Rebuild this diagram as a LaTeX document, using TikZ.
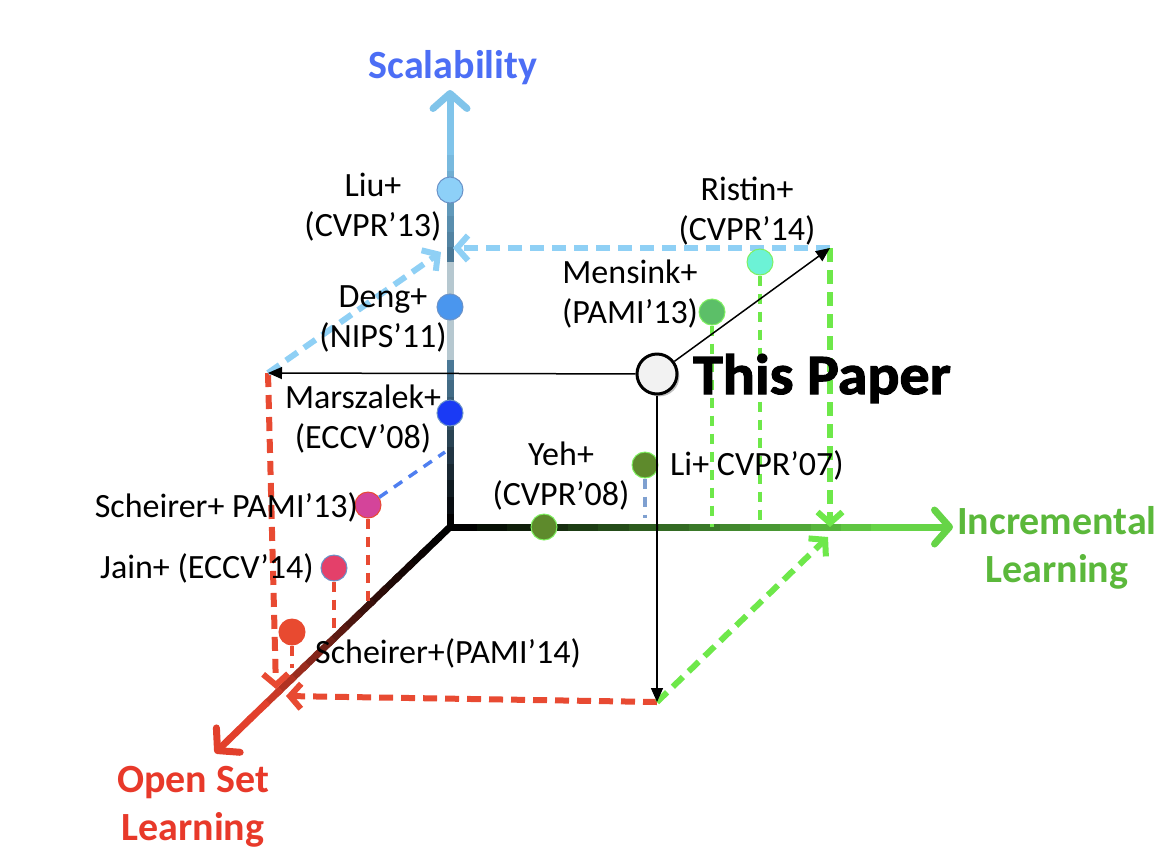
\documentclass[tikz,border=0pt]{standalone}
\usepackage{fontspec}
\setmainfont{Carlito}
\newfontfamily\heavyfont[FakeStretch=1.05,BoldFeatures={FakeBold=2}]{Carlito}
\usetikzlibrary{arrows.meta,calc,shadows}

\definecolor{scalblue}{HTML}{4C6EF5}
\definecolor{incgreen}{HTML}{5BB83B}
\definecolor{openred}{HTML}{E8392A}
\definecolor{ydark}{HTML}{4A7896}
\definecolor{ygrey}{HTML}{B6C8D0}
\definecolor{yblue}{HTML}{80C4EA}
\definecolor{xgreen}{HTML}{66D447}
\definecolor{zred}{HTML}{E2402C}
\definecolor{dashblue}{HTML}{8FD0F5}
\definecolor{dashgreen}{HTML}{6EE84A}
\definecolor{dashred}{HTML}{E84A32}
\definecolor{midblue}{HTML}{4F7FF0}
\definecolor{steelblue}{HTML}{7FA0D0}
\definecolor{olive}{HTML}{5E8A2C}
\definecolor{rimgreen}{HTML}{7EF060}
\definecolor{rimblue}{HTML}{6A92C8}
\definecolor{liufill}{HTML}{8DD0F8}
\definecolor{dengfill}{HTML}{4A96EE}
\definecolor{marsfill}{HTML}{1A3AF5}
\definecolor{schfill}{HTML}{D4449A}
\definecolor{jainfill}{HTML}{E4406A}
\definecolor{schbfill}{HTML}{E84A30}
\definecolor{mensfill}{HTML}{5CBF68}
\definecolor{ristfill}{HTML}{6CF2D6}
\definecolor{paperfill}{HTML}{F2F2F2}

\begin{document}
\begin{tikzpicture}[x=1pt,y=-1pt,
  axisline/.style={line width=7pt},
  barb/.style={-{Straight Barb[length=15pt,width=34pt,round]}},
  dot/.style={circle,minimum size=26pt,inner sep=0pt,line width=1pt},
  lbl/.style={font=\fontsize{34}{40}\selectfont,align=center,inner sep=0pt},
  title/.style={font=\fontsize{40}{48}\selectfont\bfseries,align=center,inner sep=0pt},
  boxdash/.style={line width=6pt,dash pattern=on 14pt off 8pt,-{Straight Barb[length=11pt,width=25pt]}},
  ptdash/.style={line width=3.5pt,dash pattern=on 10pt off 8pt},
  guide/.style={line width=1.5pt,-{Triangle[length=14pt,width=12pt]}}
]
\useasboundingbox (0,0) rectangle (1174,860);

% axes
\coordinate (O) at (450,527);
\coordinate (ylow) at (450,360);
\coordinate (yhi) at (450,262);
\coordinate (yend) at (450,140);
\coordinate (ytip) at (450,90);
\coordinate (xend) at (905,527);
\coordinate (xtip) at (953,527);
\coordinate (zend) at (252,717);
\coordinate (ztip) at (215,753);

\foreach \i in {0,...,14} {
  \pgfmathsetmacro{\a}{\i/15}
  \pgfmathsetmacro{\b}{(\i+1)/15}
  \pgfmathsetmacro{\p}{100*(\i/14)^1.6}
  \draw[axisline,line cap=rect,draw=zred!\p!black] ($(O)!\a!(zend)$) -- ($(O)!\b!(zend)$);
}
\draw[axisline,barb,draw=zred] (zend) -- (ztip);

\foreach \i in {0,...,14} {
  \pgfmathsetmacro{\a}{\i/15}
  \pgfmathsetmacro{\b}{(\i+1)/15}
  \pgfmathsetmacro{\p}{100*\i/14}
  \draw[axisline,line cap=rect,draw=xgreen!\p!black] ($(O)!\a!(xend)$) -- ($(O)!\b!(xend)$);
}
\draw[axisline,barb,draw=xgreen] (xend) -- (xtip);

\foreach \i in {0,...,9} {
  \pgfmathsetmacro{\a}{\i/10}
  \pgfmathsetmacro{\b}{(\i+1)/10}
  \pgfmathsetmacro{\p}{100*\i/9}
  \draw[axisline,line cap=rect,draw=ydark!\p!black] ($(O)!\a!(ylow)$) -- ($(O)!\b!(ylow)$);
}
\draw[axisline,draw=ygrey] (ylow) -- (yhi);
\foreach \i in {0,...,7} {
  \pgfmathsetmacro{\a}{\i/8}
  \pgfmathsetmacro{\b}{(\i+1)/8}
  \pgfmathsetmacro{\p}{100*\i/7}
  \draw[axisline,draw=yblue!\p!ydark] ($(yhi)!\a!(yend)$) -- ($(yhi)!\b!(yend)$);
}
\draw[axisline,barb,draw=yblue] (yend) -- (ytip);

\node[title,text=scalblue,anchor=base] (scal) at (453,78) {Scalability};
\node[title,text=incgreen] (incr) at (1057,548) {Incremental\\Learning};
\node[title,text=openred] (open) at (193,807) {Open Set\\Learning};

% box corners and arrow ends on the axes
\coordinate (cyz) at (268,373);
\coordinate (cxy) at (830,248);
\coordinate (cxz) at (657,702);
\coordinate (cyA) at (453,248);
\coordinate (cyB) at (441,252);
\coordinate (cxA) at (830,527);
\coordinate (cxB) at (828,537);
\coordinate (czA) at (276,689);
\coordinate (czB) at (286,696);

\draw[boxdash,dashred] (cyz) -- (czA);
\draw[boxdash,dashred] (cxz) -- (czB);
\draw[boxdash,dashblue] (cyz) -- (cyB);
\draw[boxdash,dashblue] (cxy) -- (cyA);
\draw[boxdash,dashgreen] (cxy) -- (cxA);
\draw[boxdash,dashgreen] (cxz) -- (cxB);

% methods
\node[dot,fill=liufill,draw=rimblue] (liu) at (450,190) {};
\node[dot,fill=dengfill,draw=rimblue] (deng) at (450,307) {};
\node[dot,fill=marsfill,draw=rimblue] (mars) at (450,413) {};
\node[dot,fill=schfill,draw=dashred] (schA) at (368,505) {};
\node[dot,fill=jainfill,draw=rimblue] (jain) at (334,568) {};
\node[dot,fill=schbfill,draw=schbfill] (schB) at (292,632) {};
\node[dot,fill=olive,draw=rimgreen] (yeh) at (544,527) {};
\node[dot,fill=olive,draw=rimgreen] (li) at (645,465) {};
\node[dot,fill=mensfill,draw=rimgreen] (mens) at (712,312) {};
\node[dot,fill=ristfill,draw=rimgreen] (rist) at (760,262) {};

\coordinate (schAz) at (368,603);
\coordinate (schAy) at (445,452);
\coordinate (jainz) at (334,632);
\coordinate (schBz) at (292,668);
\coordinate (lix) at (645,518);

\draw[ptdash,dashred] (schA) -- (schAz);
\draw[ptdash,midblue] (schA) -- (schAy);
\draw[ptdash,dashred] (jain) -- (jainz);
\draw[ptdash,dashred] (schB) -- (schBz);
\draw[ptdash,steelblue] (li) -- (lix);
\draw[ptdash,dashgreen] (mens) -- (mens |- O);
\draw[ptdash,dashgreen] (rist) -- (rist |- O);

\node[lbl] (liulbl) at (373,207) {Liu+\\(CVPR'13)};
\node[lbl] (denglbl) at (383,319) {Deng+\\(NIPS'11)};
\node[lbl] (marslbl) at (363,419) {Marszalek+\\(ECCV'08)};
\node[lbl,anchor=base east] (schAlbl) at (358,517) {Scheirer+ PAMI'13)};
\node[lbl,anchor=base east] (jainlbl) at (314,578) {Jain+ (ECCV'14)};
\node[lbl,anchor=base west] (schBlbl) at (315,663) {Scheirer+(PAMI'14)};
\node[lbl] (yehlbl) at (561,476) {Yeh+\\(CVPR'08)};
\node[lbl,anchor=base west] (lilbl) at (670,475) {Li+ CVPR'07)};
\node[lbl] (menslbl) at (630,294) {Mensink+\\(PAMI'13)};
\node[lbl] (ristlbl) at (747,211) {Ristin+\\(CVPR'14)};

% this paper
\node[circle,draw,line width=3pt,fill=paperfill,minimum size=40pt,inner sep=0pt,drop shadow] (paper) at (657,374) {};
\node[font=\fontsize{57}{60}\heavyfont\bfseries,anchor=base west,inner sep=0pt] (paperlbl) at (693,394) {This Paper};
\draw[guide] (paper) -- (cyz);
\draw[guide] (paper) -- (cxy);
\draw[guide] (paper) -- (cxz);
\end{tikzpicture}
\end{document}
